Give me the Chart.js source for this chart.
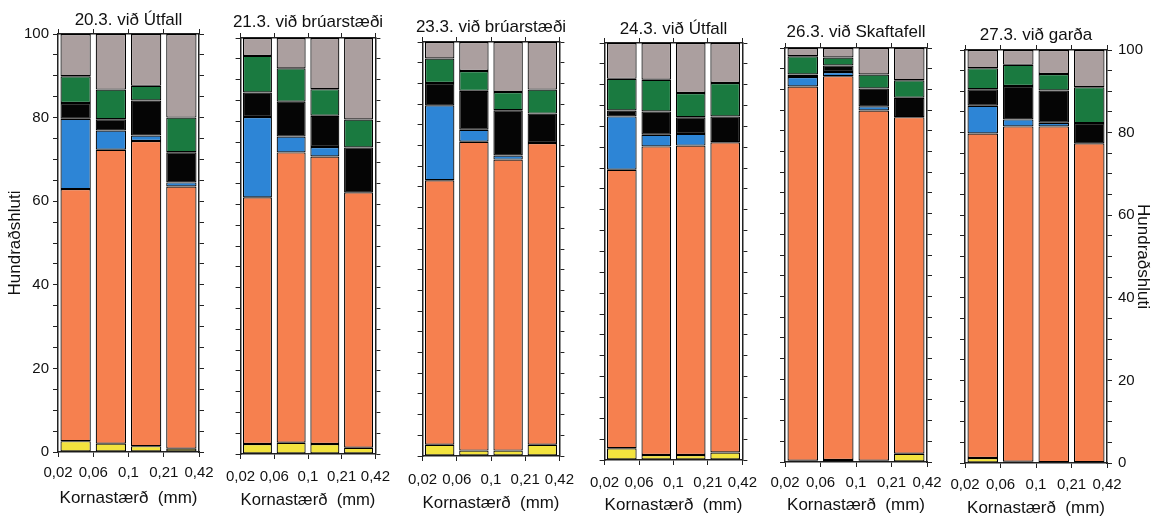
<!DOCTYPE html>
<html>
<head>
<meta charset="utf-8">
<script src="https://cdn.jsdelivr.net/npm/chart.js@4.4.1/dist/chart.umd.min.js"></script>
<style>
  html, body { margin: 0; padding: 0; background: #fff; }
  body { width: 1157px; height: 520px; position: relative; overflow: hidden; }
  .panel { position: absolute; }
</style>
</head>
<body>
<script>
// Sampling dates / sites, one panel each
const panelTitles = ['20.3. við Útfall', '21.3. við brúarstæði', '23.3. við brúarstæði',
                     '24.3. við Útfall', '26.3. við Skaftafell', '27.3. við garða'];
// Grain-size class boundaries (mm), labelled under the bar edges
const sizeLabels = ['0,02', '0,06', '0,1', '0,21', '0,42'];
const yMajorTicks = [0, 20, 40, 60, 80, 100];
const yAxisTitle = 'Hundraðshluti';
const xAxisTitle = 'Kornastærð  (mm)';

// Percentage of each component, per panel, per grain-size class (bottom to top of stack)
const yellowPct = [[2.6, 2.0, 1.4, 0.8], [2.4, 2.7, 2.4, 1.5], [2.7, 1.3, 1.3, 2.7],
                   [2.8, 1.2, 1.2, 1.8], [0.3, 0.5, 0.3, 2.0], [1.2, 0.3, 0.2, 0.2]];
const orangePct = [[60.3, 70.3, 73.0, 62.7], [59.3, 69.8, 69.1, 61.4], [63.9, 74.6, 70.3, 72.9],
                   [66.8, 74.0, 74.2, 74.4], [90.4, 92.7, 84.6, 81.3], [78.6, 81.2, 81.3, 77.2]];
const bluePct   = [[16.8, 4.6, 1.3, 1.0], [19.3, 3.8, 2.3, 0], [18.1, 2.9, 1.0, 0],
                   [12.8, 2.8, 2.8, 0], [2.3, 1.0, 1.0, 0], [6.7, 1.7, 0.9, 0]];
const blackPct  = [[3.8, 2.7, 8.4, 7.2], [5.9, 8.4, 7.5, 10.8], [5.4, 9.4, 10.9, 7.1],
                   [1.4, 5.6, 4.0, 6.2], [0.6, 1.6, 4.3, 4.7], [4.0, 8.1, 7.8, 4.9]];
const greenPct  = [[6.4, 7.1, 3.5, 8.3], [8.8, 8.0, 6.4, 6.7], [5.9, 4.8, 4.4, 5.8],
                   [7.6, 7.6, 5.8, 8.0], [4.4, 1.9, 3.4, 4.2], [5.1, 5.1, 4.0, 8.7]];
const grayPct   = [[10.1, 13.3, 12.4, 20.0], [4.3, 7.3, 12.3, 19.6], [4.0, 7.0, 12.1, 11.5],
                   [8.6, 8.8, 12.0, 9.6], [2.0, 2.3, 6.4, 7.8], [4.4, 3.6, 5.8, 9.0]];

const components = [
  { values: yellowPct, color: '#f3e33e' },
  { values: orangePct, color: '#f6804f' },
  { values: bluePct,   color: '#2d85d6' },
  { values: blackPct,  color: '#050505' },
  { values: greenPct,  color: '#1a7a40' },
  { values: grayPct,   color: '#ab9f9f' }
];

// Plot rectangles and text rows of the six panels (page pixels)
const frames = [
  { l: 58,  r: 199,  t: 34, b: 452, titleY: 20, lblY: 473, axY: 498 },
  { l: 239, r: 377,  t: 38, b: 454, titleY: 22, lblY: 477, axY: 500 },
  { l: 420, r: 562,  t: 42, b: 456, titleY: 27, lblY: 480, axY: 503 },
  { l: 603, r: 744,  t: 43, b: 460, titleY: 29, lblY: 483, axY: 505 },
  { l: 785, r: 927,  t: 48, b: 462, titleY: 32, lblY: 483, axY: 505 },
  { l: 965, r: 1107, t: 50, b: 463, titleY: 35, lblY: 485, axY: 508 }
];

const FONT = "'Liberation Sans', Arial, Helvetica, sans-serif";
const INK = '#111';
const TICK_LEN = 5;
const PAD_T = 40, PAD_B = 64;
const TICK_FS = 15, TITLE_FS = 17;
const LH = fs => fs * 1.2;

function makePanel(p) {
  const f = frames[p];
  const first = p === 0, last = p === frames.length - 1;
  // symmetric side margins keep the panel title centred over its plot
  const side = first ? f.l : (last ? 1157 - f.r : 22);
  const padL = side, padR = side;
  const w = (f.r - f.l) + padL + padR;
  const h = (f.b - f.t) + PAD_T + PAD_B;

  const div = document.createElement('div');
  div.className = 'panel';
  div.style.left = (f.l - padL) + 'px';
  div.style.top = (f.t - PAD_T) + 'px';
  div.style.width = w + 'px';
  div.style.height = h + 'px';
  const cv = document.createElement('canvas');
  cv.width = w; cv.height = h;
  cv.style.width = w + 'px'; cv.style.height = h + 'px';
  div.appendChild(cv);
  document.body.appendChild(div);

  const datasets = components.map(c => ({
    data: c.values[p].map((v, i) => ({ x: i + 0.5, y: v })),
    backgroundColor: c.color,
    borderColor: '#000',
    borderWidth: 1.2,
    borderSkipped: false,
    categoryPercentage: 1,
    barPercentage: 0.86,
    xAxisID: 'x',
    yAxisID: 'y'
  }));

  const tickGrid = { display: true, drawOnChartArea: false, drawTicks: true, tickLength: TICK_LEN,
                     color: '#222', lineWidth: 1, offset: false };
  const axisBorder = { display: true, color: '#222', width: 1.5 };
  const yLabel = v => (yMajorTicks.includes(v) ? String(v) : '');

  // panel title sits in the title box; the top axis fills the rest of the top margin
  const titleCenter = PAD_T - (f.t - f.titleY);
  const titlePadTop = titleCenter - LH(TITLE_FS) / 2;
  const topAxisH = PAD_T - (titlePadTop + LH(TITLE_FS));

  new Chart(cv, {
    type: 'bar',
    data: { datasets },
    options: {
      responsive: false,
      animation: false,
      layout: { padding: 0, autoPadding: false },
      plugins: {
        legend: { display: false },
        tooltip: { enabled: false },
        title: {
          display: true, text: panelTitles[p], color: INK, fullSize: true,
          font: { family: FONT, size: TITLE_FS, weight: 'normal' },
          padding: { top: titlePadTop, bottom: 0 }
        }
      },
      scales: {
        x: {
          type: 'linear', position: 'bottom', min: 0, max: 4, stacked: true, offset: false,
          grid: tickGrid, border: axisBorder,
          ticks: {
            stepSize: 1, autoSkip: false, maxRotation: 0,
            padding: Math.round(f.lblY - f.b - TICK_LEN - LH(TICK_FS) / 2),
            color: INK, font: { family: FONT, size: TICK_FS },
            callback: v => sizeLabels[v]
          },
          title: {
            display: true, text: xAxisTitle, color: INK,
            font: { family: FONT, size: TITLE_FS },
            padding: { top: 0, bottom: Math.max(0, PAD_B - (f.axY - f.b) - LH(TITLE_FS) / 2) }
          },
          afterFit: s => { s.height = PAD_B; }
        },
        xt: {
          type: 'linear', position: 'top', min: 0, max: 4, offset: false,
          grid: tickGrid, border: axisBorder,
          ticks: { stepSize: 1, display: false },
          afterFit: s => { s.height = topAxisH; }
        },
        y: {
          type: 'linear', position: 'left', min: 0, max: 100, stacked: true,
          grid: tickGrid, border: axisBorder,
          ticks: {
            stepSize: 5, autoSkip: false, padding: 4,
            display: first, color: INK, font: { family: FONT, size: TICK_FS },
            callback: yLabel
          },
          title: {
            display: first, text: yAxisTitle, color: INK,
            font: { family: FONT, size: TITLE_FS },
            padding: { top: 15 - LH(TITLE_FS) / 2, bottom: 0 }
          },
          afterFit: s => { s.width = padL; }
        },
        yr: {
          type: 'linear', position: 'right', min: 0, max: 100,
          grid: tickGrid, border: axisBorder,
          ticks: {
            stepSize: 5, autoSkip: false, padding: 6,
            display: last, color: INK, font: { family: FONT, size: TICK_FS },
            callback: yLabel
          },
          title: {
            display: last, text: yAxisTitle, color: INK,
            font: { family: FONT, size: TITLE_FS },
            padding: { top: 14 - LH(TITLE_FS) / 2, bottom: 0 }
          },
          afterFit: s => { s.width = padR; }
        }
      }
    }
  });
}

frames.forEach((_, p) => makePanel(p));
</script>
</body>
</html>
